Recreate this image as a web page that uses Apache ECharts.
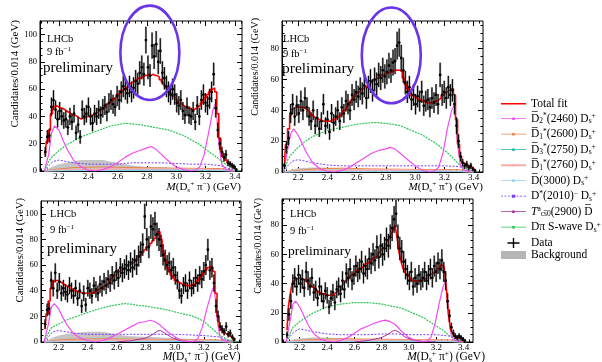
<!DOCTYPE html>
<html><head><meta charset="utf-8">
<script src="https://cdn.jsdelivr.net/npm/echarts@6/dist/echarts.min.js"></script>
<style>html,body{margin:0;padding:0;background:#fff}#c{width:602px;height:362px}</style>
</head><body><div id="c"></div>
<script>
const FONT = 'Liberation Serif';
// histogram binning of the data (GeV)
const BIN_START = 2.107;
const BIN_WIDTH = 0.014;
const xMajorTicks = [2.2, 2.4, 2.6, 2.8, 3.0, 3.2, 3.4];
const xMinorTicks = [2.08,2.12,2.16,2.24,2.28,2.32,2.36,2.44,2.48,2.52,2.56,2.64,2.68,2.72,2.76,2.84,2.88,2.92,2.96,3.04,3.08,3.12,3.16,3.24,3.28,3.32,3.36,3.44];
const yMajorTicks = [0, 20, 40, 60, 80, 100];
const yMinorTicks = [5,10,15,25,30,35,45,50,55,65,70,75,85,90,95,105];

// ---------- Panel 1: D_s+ pi-  (top left) ----------
const p1Data = [14,25,26,47,52,45,38,44,40,37, 38,32,40,36,42,28,34,25,45,40, 42,47,40,35,42,40,45,41,46,48, 43,50,52,49,47,55,52,58,62,60, 57,62,58,61,66,64,72,76,71,96, 76,70,92,84,93,80,88,72,68,62, 58,56,60,56,50,48,52,44,41,47, 41,40,44,36,48,40,52,56,50,48, 53,58,71,46,30,20,14,10,12,6, 5,4,3,1];
const p1Fit = [12,22,30,42,47,48,47,46,46,45, 44,43,42,41,41,40,39,38,39,39, 40,40,41,41,42,43,44,45,46,47, 49,50,51,53,54,56,57,59,60,61, 62,64,65,66,67,68,68,69,70,70, 71,70,71,70,70,69,67,65,63,61, 59,57,55,54,52,50,49,48,47,46, 46,45,45,46,47,48,50,52,54,56, 58,60,61,58,42,24,14,10,8,6, 5,4,2,1];
const p1Green = [[2.10,0],[2.13,7],[2.15,10],[2.2,15],[2.25,19],[2.3,22],[2.35,25],[2.4,27],[2.45,29],[2.5,31],[2.55,33],[2.6,34],[2.65,35],[2.7,34.5],[2.75,34],[2.8,33],[2.85,32],[2.9,31],[2.95,30],[3.0,28],[3.05,26],[3.1,23],[3.15,20],[3.2,16],[3.25,12],[3.3,8],[3.35,4],[3.4,1],[3.43,0]];
const p1Mag = [[2.10,0],[2.13,12],[2.15,28],[2.17,33],[2.2,30],[2.23,22],[2.26,15],[2.3,8],[2.35,3],[2.4,0.5],[2.45,0],[2.5,1],[2.55,3],[2.6,6],[2.65,10],[2.7,13],[2.75,15],[2.8,17],[2.83,18],[2.86,16],[2.9,12],[2.95,7],[3.0,3],[3.05,1],[3.1,0],[3.13,0.5],[3.16,3],[3.19,12],[3.22,28],[3.25,45],[3.27,50],[3.29,20],[3.31,5],[3.34,1],[3.38,0]];
const p1Dst = [[2.10,0],[2.13,4],[2.16,7],[2.2,8],[2.25,7],[2.3,6],[2.4,5],[2.5,5],[2.6,5],[2.7,6],[2.8,6],[2.9,6],[3.0,5.5],[3.1,5],[3.2,5],[3.3,4],[3.35,2],[3.4,0.5]];
const p1Tcs = [];
const p1Bkg = [[2.10,0],[2.15,3],[2.2,5],[2.25,6],[2.3,7],[2.35,8],[2.4,8],[2.45,8],[2.5,8],[2.55,7],[2.6,6],[2.65,5],[2.7,4],[2.8,3],[2.9,3],[3.0,2],[3.1,2],[3.2,2],[3.3,1.5],[3.4,0.5],[3.42,0]];
const p1D1a = [[2.10,0],[2.2,1.5],[2.3,2.5],[2.5,3],[2.7,2.5],[2.9,2.2],[3.1,2],[3.3,1.8],[3.4,0.3]];
const p1D3 = [[2.10,0],[2.3,0.5],[2.8,0.8],[3.2,0.6],[3.4,0]];
const p1D1b = [[2.10,0],[2.3,1],[2.6,1.5],[2.9,1.5],[3.2,1.2],[3.4,0]];
const p1D3000 = [[2.10,0],[2.4,0.3],[2.8,0.6],[3.1,0.8],[3.3,0.5],[3.4,0]];
const p1Ellipse = [[2.82, 86.7, 0.201, 34.6]]; // centre (GeV, cand.), half-axes

// ---------- Panel 2: D_s+ pi+  (top right) ----------
const p2Data = [4,16,22,38,44,36,43,38,46,40, 48,42,36,33,40,30,35,28,33,44, 30,34,26,38,32,36,40,33,42,38, 46,44,40,50,47,52,49,54,51,56, 48,55,59,53,60,57,63,61,66,62, 65,69,66,71,72,82,84,74,66,58, 52,55,47,50,44,49,46,52,43,46, 47,42,48,45,50,44,63,50,52,48, 55,50,53,44,30,20,10,6,4,5, 3,4,2,1];
const p2Fit = [6,18,28,37,41,42,42,42,42,42, 41,40,39,37,36,35,34,34,33,33, 33,33,33,34,34,35,36,37,38,40, 41,43,45,47,49,51,52,53,54,55, 56,57,58,59,60,61,62,63,63,64, 64,65,65,66,66,66,66,65,61,57, 54,52,50,49,48,47,47,46,46,45, 45,45,45,46,46,47,48,50,51,52, 53,54,54,50,34,18,10,6,5,4, 3,3,2,1];
const p2Green = [[2.10,0],[2.13,8],[2.15,11],[2.2,16],[2.25,20],[2.3,23],[2.35,25],[2.4,27],[2.45,28],[2.5,29],[2.55,30],[2.6,31],[2.65,31.5],[2.7,32],[2.75,32],[2.8,31.5],[2.85,31],[2.9,30],[2.95,28],[3.0,26],[3.05,24],[3.1,21],[3.15,18],[3.2,14],[3.25,10],[3.3,5],[3.35,2],[3.4,0.5],[3.42,0]];
const p2Mag = [[2.10,0],[2.13,15],[2.15,25],[2.17,28],[2.2,24],[2.23,18],[2.26,12],[2.3,6],[2.35,2],[2.4,0.5],[2.45,0],[2.5,1],[2.55,3],[2.6,6],[2.65,9],[2.7,12],[2.75,14],[2.8,15],[2.83,16],[2.86,15],[2.9,12],[2.95,8],[3.0,4],[3.05,1],[3.1,0],[3.13,0.5],[3.16,3],[3.19,12],[3.22,28],[3.25,40],[3.27,44],[3.29,18],[3.31,4],[3.34,1],[3.38,0]];
const p2Dst = [[2.10,0],[2.13,4],[2.16,7],[2.2,8],[2.25,7],[2.3,6],[2.4,4.5],[2.5,4],[2.6,4],[2.7,4],[2.8,4],[2.9,4],[3.0,4],[3.1,4],[3.2,4],[3.3,3.5],[3.35,2],[3.4,0.5]];
const p2Tcs = [];
const p2Bkg = [[2.10,0],[2.15,1.5],[2.2,2.5],[2.3,3],[2.4,3],[2.5,2.5],[2.6,2],[2.8,1.5],[3.0,1.2],[3.2,1],[3.4,0.5],[3.42,0]];
const p2D1a = [[2.10,0],[2.2,1],[2.3,2],[2.5,2.5],[2.7,2],[2.9,1.8],[3.1,1.6],[3.3,1.5],[3.4,0.3]];
const p2D3 = [[2.10,0],[2.3,0.4],[2.8,0.7],[3.2,0.5],[3.4,0]];
const p2D1b = [[2.10,0],[2.3,0.8],[2.6,1.2],[2.9,1.3],[3.2,1],[3.4,0]];
const p2D3000 = [[2.10,0],[2.4,0.3],[2.8,0.5],[3.1,0.7],[3.3,0.4],[3.4,0]];
const p2Ellipse = [[2.837, 75.7, 0.2016, 31.1]];

// ---------- Panel 3: D_s+ pi-  (bottom left) ----------
const p3Data = [14,25,26,48,42,54,40,47,38,42, 39,37,44,40,36,42,34,40,28,38, 29,42,40,36,44,41,38,45,42,47, 44,49,46,52,48,55,50,58,54,57, 60,56,62,58,64,60,67,70,76,98, 80,74,90,88,92,84,80,75,68,64, 60,62,56,58,52,48,40,36,44,46, 40,48,42,44,50,46,52,49,55,60, 72,56,58,46,28,20,12,10,8,12, 6,7,4,2];
const p3Fit = [10,22,32,42,47,48,48,47,46,45, 44,43,42,41,40,40,39,39,38,38, 38,38,38,38,39,40,41,42,43,44, 45,46,48,50,52,53,55,56,57,58, 59,60,61,62,63,64,66,68,70,72, 74,75,77,79,81,84,86,80,70,63, 58,55,52,50,48,47,46,45,45,44, 44,44,45,45,46,48,50,52,54,56, 58,59,58,55,38,20,12,9,7,6, 5,4,3,1];
const p3Green = [[2.10,0],[2.13,7],[2.15,11],[2.2,14],[2.25,17],[2.3,19],[2.35,21],[2.4,23],[2.45,25],[2.5,26.5],[2.55,28],[2.6,29],[2.65,30],[2.7,29.5],[2.75,28.5],[2.8,28],[2.85,27],[2.9,26],[2.95,25],[3.0,23.5],[3.05,22],[3.1,21],[3.15,19],[3.2,16],[3.25,11],[3.3,6],[3.35,2.5],[3.4,0.5],[3.43,0]];
const p3Mag = [[2.10,0],[2.13,14],[2.15,27],[2.17,30],[2.2,26],[2.23,19],[2.26,13],[2.3,7],[2.35,3],[2.4,1],[2.45,0],[2.5,1],[2.55,3],[2.6,6],[2.65,9],[2.7,12],[2.75,15],[2.8,16],[2.83,17],[2.86,16],[2.9,13],[2.95,8],[3.0,4],[3.05,1],[3.1,0],[3.13,0.5],[3.16,3],[3.19,12],[3.22,26],[3.25,38],[3.27,44],[3.29,18],[3.31,4],[3.34,1],[3.38,0]];
const p3Dst = [[2.10,0],[2.13,4],[2.16,8],[2.2,9],[2.25,8],[2.3,7],[2.4,6],[2.5,6],[2.6,6],[2.7,6],[2.8,6],[2.9,6],[3.0,6],[3.1,5.5],[3.2,5],[3.3,4],[3.35,2],[3.4,0.5]];
const p3Tcs = [[2.6,0],[2.7,1],[2.8,3],[2.85,6],[2.88,8.5],[2.9,9],[2.93,7],[2.97,4],[3.02,1.5],[3.1,0.3],[3.2,0]];
const p3Bkg = [[2.10,0],[2.15,3],[2.2,5],[2.25,6],[2.3,7],[2.35,7.5],[2.4,8],[2.45,8],[2.5,8],[2.55,7],[2.6,6],[2.65,5],[2.7,4.5],[2.8,4],[2.9,3.5],[3.0,3],[3.1,2.5],[3.2,2],[3.3,1.5],[3.4,0.5],[3.42,0]];
const p3D1a = [[2.10,0],[2.2,1.5],[2.3,2.2],[2.5,2.5],[2.7,2.2],[2.9,2],[3.1,1.8],[3.3,1.6],[3.4,0.3]];
const p3D3 = [[2.10,0],[2.3,0.5],[2.8,0.7],[3.2,0.5],[3.4,0]];
const p3D1b = [[2.10,0],[2.3,1],[2.6,1.4],[2.9,1.4],[3.2,1.1],[3.4,0]];
const p3D3000 = [[2.10,0],[2.4,0.3],[2.8,0.6],[3.1,0.7],[3.3,0.5],[3.4,0]];

// ---------- Panel 4: D_s+ pi+  (bottom right) ----------
const p4Data = [5,19,28,40,44,38,46,40,43,37, 48,42,38,44,34,36,30,38,33,28, 35,32,24,30,34,27,36,38,33,42, 36,47,44,50,42,46,52,48,50,55, 47,52,50,57,54,60,56,65,58,66, 60,64,70,66,72,78,84,88,72,64, 62,55,50,46,42,48,38,44,40,46, 42,44,48,42,46,50,44,52,48,54, 50,56,48,42,28,18,10,6,4,3, 4,3,2,1];
const p4Fit = [8,22,32,39,42,43,44,44,43,43, 42,41,39,38,37,36,35,34,33,33, 33,32,32,32,32,33,34,35,36,38, 40,42,43,45,46,47,48,49,50,51, 52,53,54,55,56,57,58,59,61,62, 64,65,67,69,71,74,77,80,72,62, 56,51,48,46,45,43,42,42,42,42, 42,43,43,44,45,46,47,48,49,50, 51,53,52,48,34,18,9,6,4,3, 3,2,1,0.5];
const p4Green = [[2.10,0],[2.13,6],[2.15,10],[2.2,14],[2.25,17],[2.3,20],[2.35,22],[2.4,24],[2.45,25],[2.5,26],[2.55,26.5],[2.6,27],[2.65,27],[2.7,27],[2.75,26.5],[2.8,26],[2.85,25],[2.9,24],[2.95,23],[3.0,21],[3.05,19],[3.1,17],[3.15,14],[3.2,11],[3.25,8],[3.3,4],[3.35,1.5],[3.4,0.3],[3.42,0]];
const p4Mag = [[2.10,0],[2.13,15],[2.15,26],[2.17,28],[2.2,24],[2.23,18],[2.26,12],[2.3,6],[2.35,2],[2.4,0.5],[2.45,0],[2.5,1],[2.55,3],[2.6,6],[2.65,9],[2.7,11],[2.75,13],[2.8,14.5],[2.83,15],[2.86,14],[2.9,12],[2.95,7],[3.0,3],[3.05,1],[3.1,0],[3.13,0.5],[3.16,3],[3.19,12],[3.22,26],[3.25,38],[3.27,42],[3.29,18],[3.31,4],[3.34,1],[3.38,0]];
const p4Dst = [[2.10,0],[2.13,4],[2.16,7],[2.2,9],[2.25,8],[2.3,7],[2.4,5.5],[2.5,5],[2.6,5],[2.7,5],[2.8,5.5],[2.9,5.5],[3.0,5],[3.1,5],[3.2,5],[3.3,4],[3.35,2],[3.4,0.5]];
const p4Tcs = [[2.6,0],[2.7,1],[2.8,3],[2.85,5.5],[2.88,7.5],[2.9,8],[2.93,6.5],[2.97,3.5],[3.02,1.5],[3.1,0.3],[3.2,0]];
const p4Bkg = [[2.10,0],[2.15,1.5],[2.2,2.5],[2.3,3],[2.4,3],[2.5,2.5],[2.6,2],[2.8,1.5],[3.0,1.2],[3.2,1],[3.4,0.5],[3.42,0]];
const p4D1a = [[2.10,0],[2.2,1],[2.3,1.8],[2.5,2.2],[2.7,2],[2.9,1.8],[3.1,1.6],[3.3,1.4],[3.4,0.3]];
const p4D3 = [[2.10,0],[2.3,0.4],[2.8,0.6],[3.2,0.5],[3.4,0]];
const p4D1b = [[2.10,0],[2.3,0.8],[2.6,1.2],[2.9,1.2],[3.2,1],[3.4,0]];
const p4D3000 = [[2.10,0],[2.4,0.3],[2.8,0.5],[3.1,0.6],[3.3,0.4],[3.4,0]];

// ---------- legend labels ----------
const OV = 'D\u0305';
const legendLabels = {
  'Total fit': '{t|Total fit}',
  'D2_2460': '{t|' + OV + '}{sb|2}{sp|*}{t|(2460) D}{sb|s}{sp|+}',
  'D1_2600': '{t|' + OV + '}{sb|1}{sp|*}{t|(2600) D}{sb|s}{sp|+}',
  'D3_2750': '{t|' + OV + '}{sb|3}{sp|*}{t|(2750) D}{sb|s}{sp|+}',
  'D1_2760': '{t|' + OV + '}{sb|1}{sp|*}{t|(2760) D}{sb|s}{sp|+}',
  'D_3000': '{t|' + OV + '(3000) D}{sb|s}{sp|+}',
  'Dst_2010': '{t|D}{sp|*}{t|(2010)}{sp|\u2212}{t| D}{sb|s}{sp|+}',
  'Tcs_2900': '{i|T}{sp|a}{sb|cs\u03050}{t|(2900) ' + OV + '}',
  'Dpi_Swave': '{t|D\u03c0 S-wave D}{sb|s}{sp|+}',
  'Data': '{t|Data}',
  'Background': '{t|Background}'
};
const yTitle = 'Candidates/0.014 (GeV)';

const COL = {fit:'#ff0000', d2:'#f24cf2', d1a:'#e8844a', d3:'#1fb5a5', d1b:'#ffaaaa', d3000:'#8fd0f5', dst:'#7a3cff', tcs:'#a8309a', sw:'#2fc456', bkg:'#c4c4c4'};

const RICH = {
  t:{fontFamily:FONT, fontSize:11.5, lineHeight:13, color:'#000', verticalAlign:'middle'},
  i:{fontFamily:FONT, fontSize:11.5, fontStyle:'italic', lineHeight:13, color:'#000', verticalAlign:'middle'},
  sp:{fontFamily:FONT, fontSize:7.5, lineHeight:6, color:'#000', verticalAlign:'top'},
  sb:{fontFamily:FONT, fontSize:7.5, lineHeight:6, color:'#000', verticalAlign:'bottom'}
};
function richAx(fs) {
  return {
    t:{fontFamily:FONT, fontSize:fs, lineHeight:fs+2, fill:'#000', verticalAlign:'middle'},
    i:{fontFamily:FONT, fontSize:fs, fontStyle:'italic', lineHeight:fs+2, fill:'#000', verticalAlign:'middle'},
    sp:{fontFamily:FONT, fontSize:fs*0.65, lineHeight:fs*0.5, fill:'#000', verticalAlign:'top'},
    sb:{fontFamily:FONT, fontSize:fs*0.65, lineHeight:fs*0.5, fill:'#000', verticalAlign:'bottom'}
  };
}

const panels = [
  {grid:{left:40, top:21, width:202, height:150}, xmin:2.071, xmax:3.448, ymax:110, pion:'\u2212',
   xName:{x:241, y:180.5, fs:11}, yName:{x:15, y:20, fs:11},
   data:p1Data, fit:p1Fit, green:p1Green, mag:p1Mag, dst:p1Dst, tcs:p1Tcs, bkg:p1Bkg, d1a:p1D1a, d3:p1D3, d1b:p1D1b, d3000:p1D3000, ell:p1Ellipse},
  {grid:{left:282, top:21, width:201, height:151}, xmin:2.09, xmax:3.464, ymax:98, pion:'+',
   xName:{x:483, y:180.5, fs:11}, yName:{x:255, y:18, fs:10},
   data:p2Data, fit:p2Fit, green:p2Green, mag:p2Mag, dst:p2Dst, tcs:p2Tcs, bkg:p2Bkg, d1a:p2D1a, d3:p2D3, d1b:p2D1b, d3000:p2D3000, ell:p2Ellipse},
  {grid:{left:41, top:201, width:200, height:141}, xmin:2.079, xmax:3.455, ymax:110, pion:'\u2212',
   xName:{x:240.5, y:350.5, fs:11.5}, yName:{x:20, y:198, fs:10.7},
   data:p3Data, fit:p3Fit, green:p3Green, mag:p3Mag, dst:p3Dst, tcs:p3Tcs, bkg:p3Bkg, d1a:p3D1a, d3:p3D3, d1b:p3D1b, d3000:p3D3000, ell:null},
  {grid:{left:282, top:199, width:191, height:143}, xmin:2.07, xmax:3.469, ymax:98, pion:'+',
   xName:{x:485, y:350.5, fs:11.5}, yName:{x:258, y:198, fs:9.8},
   data:p4Data, fit:p4Fit, green:p4Green, mag:p4Mag, dst:p4Dst, tcs:p4Tcs, bkg:p4Bkg, d1a:p4D1a, d3:p4D3, d1b:p4D1b, d3000:p4D3000, ell:null}
];

function binX(i) { return +(BIN_START + i * BIN_WIDTH).toFixed(4); }

const grids = [], xAxes = [], yAxes = [], series = [], titles = [];
panels.forEach((P, p) => {
  grids.push(Object.assign({show:true, borderColor:'#000', borderWidth:1, backgroundColor:'rgba(0,0,0,0)', containLabel:false}, P.grid));
  const xMaj = xMajorTicks.filter(v => v >= P.xmin && v <= P.xmax);
  const xMin = xMinorTicks.filter(v => v > P.xmin && v < P.xmax);
  const yMaj = yMajorTicks.filter(v => v <= P.ymax);
  const yMin = yMinorTicks.filter(v => v < P.ymax);
  const cx = {gridIndex:p, type:'value', min:P.xmin, max:P.xmax, splitLine:{show:false}, axisPointer:{show:false}};
  const tick = (vals, len) => ({show:true, inside:true, length:len, customValues:vals, lineStyle:{color:'#000', width:1}});
  xAxes.push(Object.assign({}, cx, {position:'bottom',
    axisLine:{show:true, onZero:false, lineStyle:{color:'#000', width:1}},
    axisTick:tick(xMaj, 5),
    axisLabel:{show:true, customValues:xMaj, formatter:v => v.toFixed(1), fontFamily:FONT, fontSize:9, color:'#000', margin:1.5}}));
  xAxes.push(Object.assign({}, cx, {position:'bottom', axisLine:{show:false, onZero:false}, axisTick:tick(xMin, 2.5), axisLabel:{show:false}}));
  xAxes.push(Object.assign({}, cx, {position:'top', axisLine:{show:false, onZero:false}, axisTick:tick(xMaj, 5), axisLabel:{show:false}}));
  xAxes.push(Object.assign({}, cx, {position:'top', axisLine:{show:false, onZero:false}, axisTick:tick(xMin, 2.5), axisLabel:{show:false}}));
  const cy = {gridIndex:p, type:'value', min:0, max:P.ymax, splitLine:{show:false}, axisPointer:{show:false}};
  yAxes.push(Object.assign({}, cy, {position:'left',
    axisLine:{show:true, onZero:false, lineStyle:{color:'#000', width:1}},
    axisTick:tick(yMaj, 5),
    axisLabel:{show:true, customValues:yMaj, fontFamily:FONT, fontSize:8.5, color:'#000', margin:3}}));
  yAxes.push(Object.assign({}, cy, {position:'left', axisLine:{show:false, onZero:false}, axisTick:tick(yMin, 2.5), axisLabel:{show:false}}));
  yAxes.push(Object.assign({}, cy, {position:'right', axisLine:{show:false, onZero:false}, axisTick:tick(yMaj, 5), axisLabel:{show:false}}));
  yAxes.push(Object.assign({}, cy, {position:'right', axisLine:{show:false, onZero:false}, axisTick:tick(yMin, 2.5), axisLabel:{show:false}}));

  // axis titles (ROOT style: aligned to the axis end)
  titles.push({type:'text', x:P.xName.x, y:P.xName.y, silent:true, z:10, style:{
    text:'{i|M}{t|(D}{sb|s}{sp|+}{t| \u03c0}{sp|' + P.pion + '}{t|) (GeV)}',
    align:'right', verticalAlign:'top', rich:richAx(P.xName.fs)}});
  titles.push({type:'text', x:P.yName.x, y:P.yName.y, rotation:Math.PI / 2, silent:true, z:10, style:{
    text:yTitle, fontFamily:FONT, fontSize:P.yName.fs, fill:'#000', align:'right', verticalAlign:'middle'}});

  const ax = {xAxisIndex:p*4, yAxisIndex:p*4, animation:false, silent:true};
  const comp = (name, pts, color, width, type, z) => Object.assign({}, ax, {
    type:'line', name, data:pts, symbol:'none', z:z || 3,
    lineStyle:{color, width, type}, itemStyle:{color}});

  series.push(Object.assign({}, ax, {type:'line', name:'Background', data:P.bkg, symbol:'none', z:1,
    lineStyle:{width:0, color:COL.bkg}, areaStyle:{color:COL.bkg, opacity:1}, itemStyle:{color:'#b5b5b5'}}));
  series.push(comp('D1_2600', P.d1a, COL.d1a, 1, 'solid'));
  series.push(comp('D3_2750', P.d3, COL.d3, 1, 'solid'));
  series.push(comp('D1_2760', P.d1b, COL.d1b, 1.5, 'solid'));
  series.push(comp('D_3000', P.d3000, COL.d3000, 1, 'solid'));
  series.push(comp('Dst_2010', P.dst, COL.dst, 1, [2, 1.5]));
  series.push(comp('Dpi_Swave', P.green, COL.sw, 1.2, [2, 1]));
  series.push(comp('Tcs_2900', P.tcs, COL.tcs, 1, 'solid'));
  series.push(comp('D2_2460', P.mag, COL.d2, 1.2, 'solid'));

  const dataPts = P.data.map((v, i) => [binX(i), v, Math.sqrt(v)]);
  series.push(Object.assign({}, ax, {type:'custom', name:'DataBox', data:dataPts, z:4, clip:true,
    renderItem:function (params, api) {
      const x = api.value(0), y = api.value(1), e = api.value(2);
      const a = api.coord([x - BIN_WIDTH / 2, y + e]);
      const b = api.coord([x + BIN_WIDTH / 2, y - e]);
      return {type:'rect', shape:{x:a[0], y:a[1], width:b[0] - a[0], height:b[1] - a[1]}, style:{fill:'rgba(120,120,120,0.75)'}};
    }}));
  series.push(Object.assign({}, ax, {type:'line', name:'Total fit', step:'middle', symbol:'none', z:5,
    data:P.fit.map((v, i) => [binX(i), v]), lineStyle:{color:COL.fit, width:1.6}, itemStyle:{color:COL.fit}}));
  series.push(Object.assign({}, ax, {type:'custom', name:'Data', data:dataPts, z:6, clip:true, itemStyle:{color:'#000'},
    renderItem:function (params, api) {
      const x = api.value(0), y = api.value(1), e = api.value(2);
      const t = api.coord([x, y + e]), b = api.coord([x, y - e]), c = api.coord([x, y]);
      return {type:'group', children:[
        {type:'line', shape:{x1:c[0], y1:t[1], x2:c[0], y2:b[1]}, style:{stroke:'#000', lineWidth:1}},
        {type:'circle', shape:{cx:c[0], cy:c[1], r:1.4}, style:{fill:'#000'}}
      ]};
    }}));
  if (P.ell) {
    series.push(Object.assign({}, ax, {type:'custom', name:'Highlight', data:P.ell, z:8, clip:false,
      renderItem:function (params, api) {
        const c = api.coord([api.value(0), api.value(1)]);
        const r = api.size([api.value(2), api.value(3)]);
        return {type:'ellipse', shape:{cx:c[0], cy:c[1], rx:r[0], ry:r[1]}, style:{fill:'none', stroke:'#6a35e8', lineWidth:2.6}};
      }}));
  }
});

// legend icons (25 x 4 boxes for line entries, 25 x 10 for data / background)
const ICON_FIT = 'path://M0,0h0.01v0.01h-0.01z M0,1.2h25v1.6h-25z M24.99,3.99h0.01v0.01h-0.01z';
const ICON_LINE = 'path://M0,0h0.01v0.01h-0.01z M0,1.6h25v0.8h-25z M11.2,0.7h2.6v2.6h-2.6z M24.99,3.99h0.01v0.01h-0.01z';
const ICON_THICK = 'path://M0,0h0.01v0.01h-0.01z M0,1h25v2h-25z M11.2,0.7h2.6v2.6h-2.6z M24.99,3.99h0.01v0.01h-0.01z';
const ICON_DOTS = 'path://M0,0h0.01v0.01h-0.01z M0,1.6h2v0.8h-2z M3.5,1.6h2v0.8h-2z M7,1.6h2v0.8h-2z M15.5,1.6h2v0.8h-2z M19,1.6h2v0.8h-2z M22.5,1.6h2.5v0.8h-2.5z M10.7,0.5h3.6v3h-3.6z M24.99,3.99h0.01v0.01h-0.01z';
const ICON_DATA = 'path://M0,0h0.01v0.01h-0.01z M6.5,4.3h12v1.4h-12z M11.8,0h1.4v10h-1.4z M24.99,9.99h0.01v0.01h-0.01z';
const ICON_BKG = 'path://M0,0h0.01v0.01h-0.01z M0,1h25v8h-25z M24.99,9.99h0.01v0.01h-0.01z';

const legendCommon = {orient:'vertical', left:496, itemWidth:25, selectedMode:false,
  itemStyle:{borderWidth:0}, lineStyle:{width:0},
  textStyle:{fontFamily:FONT, fontSize:11.5, color:'#000', rich:RICH},
  formatter:name => legendLabels[name] || name};

const option = {
  animation:false,
  backgroundColor:'#fff',
  grid:grids, xAxis:xAxes, yAxis:yAxes, series:series,
  legend:[
    Object.assign({}, legendCommon, {top:92.7, itemHeight:4, itemGap:2.5, data:[
      {name:'Total fit', icon:ICON_FIT},
      {name:'D2_2460', icon:ICON_LINE},
      {name:'D1_2600', icon:ICON_LINE},
      {name:'D3_2750', icon:ICON_LINE},
      {name:'D1_2760', icon:ICON_THICK},
      {name:'D_3000', icon:ICON_LINE},
      {name:'Dst_2010', icon:ICON_DOTS},
      {name:'Tcs_2900', icon:ICON_LINE},
      {name:'Dpi_Swave', icon:ICON_LINE}]}),
    Object.assign({}, legendCommon, {top:232, itemHeight:10, itemGap:0, data:[
      {name:'Data', icon:ICON_DATA},
      {name:'Background', icon:ICON_BKG}]})
  ],
  graphic:(function () {
    const g = titles.slice();
    const tags = [
      [47, 34, 46, 43, 61, 15], [283, 34, 48, 282, 61, 15.5],
      [50, 209, 224, 47, 242, 15], [290, 209, 225, 288, 244, 13.5]
    ];
    tags.forEach(t => {
      g.push({type:'text', left:t[0], top:t[1], silent:true, style:{text:'LHCb', fontFamily:FONT, fontSize:10.5, fill:'#000'}});
      g.push({type:'text', left:t[0], top:t[2], silent:true, style:{text:'{a|9 fb}{s|\u22121}', fill:'#000',
        rich:{a:{fontFamily:FONT, fontSize:10.5, lineHeight:12, verticalAlign:'middle'}, s:{fontFamily:FONT, fontSize:7, lineHeight:6, verticalAlign:'top'}}}});
      g.push({type:'text', left:t[3], top:t[4], silent:true, style:{text:'preliminary', fontFamily:FONT, fontSize:t[5], fill:'#000'}});
    });
    return g;
  })()
};

const chart = echarts.init(document.getElementById('c'), null, {renderer:'canvas'});
chart.setOption(option);
</script>
</body></html>
